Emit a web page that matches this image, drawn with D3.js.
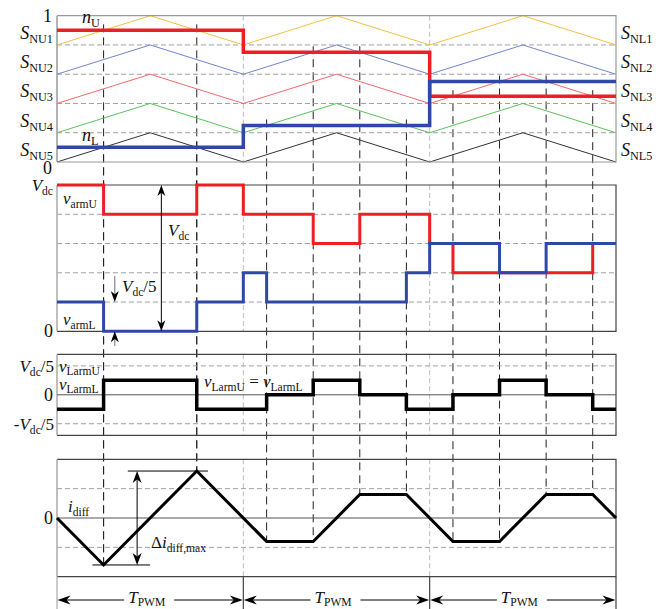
<!DOCTYPE html>
<html><head><meta charset="utf-8">
<script src="https://cdn.jsdelivr.net/npm/d3@7"></script>
<style>body{margin:0;background:#fff}svg{display:block}</style>
</head><body><svg id="c" width="666" height="609"></svg>
<script>
// ---- data (time in units of T_PWM) ----
const periods = [0, 1, 2, 3];
const carrierBands = [[0.8, 1.0], [0.6, 0.8], [0.4, 0.6], [0.2, 0.4], [0.0, 0.2]];
const carrierUpperLabels = ["NU1", "NU2", "NU3", "NU4", "NU5"];
const carrierLowerLabels = ["NL1", "NL2", "NL3", "NL4", "NL5"];
const nU = [0.9, 0.75, 0.45];
const nL = [0.1, 0.25, 0.55];
const switchU = [0.25, 0.75, 1.375, 1.625, 2.125, 2.875];
const switchL = [0.25, 0.75, 1.125, 1.875, 2.375, 2.625];
const nUatSwitchU = [0.9, 0.9, 0.75, 0.75, 0.45, 0.45];
const nLatSwitchL = [0.1, 0.1, 0.25, 0.25, 0.55, 0.55];
// arm voltages, units of Vdc/5
const vArmUt = [0, 0.25, 0.75, 1.0, 1.375, 1.625, 2.0, 2.125, 2.875, 3.0];
const vArmUv = [5, 4, 5, 4, 3, 4, 3, 2, 3];
const vArmLt = [0, 0.25, 0.75, 1.0, 1.125, 1.875, 2.0, 2.375, 2.625, 3.0];
const vArmLv = [1, 0, 1, 2, 1, 2, 3, 2, 3];
// inductor voltage, units of Vdc/5
const vLt = [0, 0.25, 0.75, 1.125, 1.375, 1.625, 1.875, 2.125, 2.375, 2.625, 2.875, 3.0];
const vLv = [-0.5, 0.5, -0.5, 0, 0.5, 0, -0.5, 0, 0.5, 0, -0.5];
// circulating current
const iDt = [0, 0.25, 0.75, 1.125, 1.375, 1.625, 1.875, 2.125, 2.375, 2.625, 2.875, 3.0];
const iDv = [0, -1.6, 1.6, -0.8, -0.8, 0.8, 0.8, -0.8, -0.8, 0.8, 0.8, 0];

// ---- styles ----
const carrierColors = ["#f5c040", "#6f86d0", "#f26a6a", "#5cc25c", "#333333"];
const RED = "#ee1d26", BLUE = "#2f48a8";
const FONT = "'Liberation Serif','Times New Roman',serif";

const svg = d3.select("#c");
const x = d3.scaleLinear().domain([0, 3]).range([57, 616]);
const y1 = d3.scaleLinear().domain([0, 1]).range([162, 15.7]);
const y2 = d3.scaleLinear().domain([0, 5]).range([331.3, 185]);
const y3 = d3.scaleLinear().domain([-1.4, 1.4]).range([435.3, 354.3]);
const y4 = d3.scaleLinear().domain([-2, 2]).range([576.7, 459.3]);
const iAt = d3.scaleLinear().domain(iDt).range(iDv);

function stepPts(t, v) {
  const pts = [];
  v.forEach((val, i) => { pts.push([t[i], val]); pts.push([t[i + 1], val]); });
  return pts;
}
function rich(g, px, py, parts, anchor, size, sub) {
  size = size || 17; sub = sub || 4;
  const t = g.append("text").attr("x", px).attr("y", py)
    .attr("font-family", FONT).attr("font-size", size).attr("fill", "#111")
    .attr("text-anchor", anchor || "start");
  let shift = 0;
  parts.forEach(([s, k]) => {
    const sp = t.append("tspan").text(s);
    if (k === "s") { sp.attr("font-size", size * 0.68).attr("dy", sub - shift); shift = sub; }
    else { if (shift) { sp.attr("dy", -shift); shift = 0; } if (k === "i") sp.attr("font-style", "italic"); }
  });
  return t;
}
function hgrid(g, ys, vals, x0, x1) {
  g.selectAll(null).data(vals).join("line")
    .attr("x1", x0).attr("x2", x1).attr("y1", d => ys(d)).attr("y2", d => ys(d))
    .attr("stroke", "#a0a0a0").attr("stroke-width", 1).attr("stroke-dasharray", "5,3");
}
function vbound(g, ys) {
  g.selectAll(null).data([1, 2]).join("line")
    .attr("x1", d => x(d)).attr("x2", d => x(d))
    .attr("y1", ys.range()[1]).attr("y2", ys.range()[0])
    .attr("stroke", "#bdbdbd").attr("stroke-width", 1).attr("stroke-dasharray", "5,3");
}
function frame(g, ys, topCol, leftCol) {
  const [b, t] = ys.range();
  g.append("path").attr("d", `M${x(0)},${t}H${x(3)}V${b}H${x(0)}`)
    .attr("fill", "none").attr("stroke", topCol).attr("stroke-width", 1.2);
  g.append("line").attr("x1", x(0)).attr("x2", x(0)).attr("y1", t).attr("y2", b)
    .attr("stroke", leftCol).attr("stroke-width", 1.5);
}
function arrowHead(g, px, py, dir, len, w) {
  len = len || 10; w = w || 4;
  let d;
  if (dir === "up") d = `M${px},${py}L${px - w},${py + len}L${px},${py + len * 0.7}L${px + w},${py + len}Z`;
  if (dir === "down") d = `M${px},${py}L${px - w},${py - len}L${px},${py - len * 0.7}L${px + w},${py - len}Z`;
  if (dir === "left") d = `M${px},${py}L${px + len},${py - w}L${px + len * 0.7},${py}L${px + len},${py + w}Z`;
  if (dir === "right") d = `M${px},${py}L${px - len},${py - w}L${px - len * 0.7},${py}L${px - len},${py + w}Z`;
  g.append("path").attr("d", d).attr("fill", "#000");
}

// ---- black dashed switching lines (behind everything) ----
const gSw = svg.append("g");
const swData = switchU.map((t, i) => ({ t, n: nUatSwitchU[i] }))
  .concat(switchL.map((t, i) => ({ t, n: nLatSwitchL[i] })));
gSw.selectAll("line").data(swData).join("line")
  .attr("x1", d => x(d.t)).attr("x2", d => x(d.t))
  .attr("y1", d => y1(d.n) - 6).attr("y2", d => y4(iAt(d.t)))
  .attr("stroke", "#222").attr("stroke-width", 1).attr("stroke-dasharray", "8,5");

// ---- panel 1: carriers ----
const g1 = svg.append("g");
hgrid(g1, y1, carrierBands.slice(0, 4).map(b => b[0]), x(0), x(3));
vbound(g1, y1);
const line1 = d3.line().x(d => x(d[0])).y(d => y1(d[1]));
carrierBands.forEach((b, k) => {
  const pts = [];
  periods.forEach(p => { pts.push([p, b[0]]); if (p < 3) pts.push([p + 0.5, b[1]]); });
  g1.append("path").attr("d", line1(pts)).attr("fill", "none")
    .attr("stroke", carrierColors[k]).attr("stroke-width", 1);
});
frame(g1, y1, "#9a9a9a", "#9a9a9a");
g1.append("path").attr("d", line1(stepPts(periods, nU))).attr("fill", "none")
  .attr("stroke", RED).attr("stroke-width", 3.5);
g1.append("path").attr("d", line1(stepPts(periods, nL))).attr("fill", "none")
  .attr("stroke", BLUE).attr("stroke-width", 3.5);
rich(g1, 52, 22, [["1", "n"]], "end", 18);
rich(g1, 52, 174, [["0", "n"]], "end", 18);
carrierBands.forEach((b, k) => {
  const cy = (y1(b[0]) + y1(b[1])) / 2 + 8.5;
  rich(g1, 53, cy, [["S", "i"], [carrierUpperLabels[k], "s"]], "end", 18);
  rich(g1, 621, cy, [["S", "i"], [carrierLowerLabels[k], "s"]], "start", 18);
});
rich(g1, 82, 23, [["n", "i"], ["U", "s"]], "start", 18);
rich(g1, 82, 141, [["n", "i"], ["L", "s"]], "start", 18);

// ---- panel 2: arm voltages ----
const g2 = svg.append("g");
hgrid(g2, y2, [1, 2, 3, 4], x(0), x(3));
vbound(g2, y2);
frame(g2, y2, "#444", "#aaa");
const line2 = d3.line().x(d => x(d[0])).y(d => y2(d[1]));
g2.append("path").attr("d", line2(stepPts(vArmUt, vArmUv))).attr("fill", "none")
  .attr("stroke", RED).attr("stroke-width", 3);
g2.append("path").attr("d", line2(stepPts(vArmLt, vArmLv))).attr("fill", "none")
  .attr("stroke", BLUE).attr("stroke-width", 3);
rich(g2, 53, y2(5) + 6, [["V", "i"], ["dc", "s"]], "end");
rich(g2, 53, y2(0) + 6, [["0", "n"]], "end", 18);
rich(g2, 63, 204, [["v", "i"], ["armU", "s"]]);
rich(g2, 63, 325, [["v", "i"], ["armL", "s"]]);
// Vdc double arrow
const ax = x(0.56);
g2.append("line").attr("x1", ax).attr("x2", ax).attr("y1", y2(5) + 4).attr("y2", y2(0) - 4)
  .attr("stroke", "#000").attr("stroke-width", 1);
arrowHead(g2, ax, y2(5), "up", 11, 4);
arrowHead(g2, ax, y2(0), "down", 11, 4);
rich(g2, 168, 236, [["V", "i"], ["dc", "s"]]);
// Vdc/5 arrows
const bx = x(0.31);
g2.append("line").attr("x1", bx).attr("x2", bx).attr("y1", 276).attr("y2", y2(1) - 4)
  .attr("stroke", "#888").attr("stroke-width", 1.2);
arrowHead(g2, bx, y2(1), "down", 11, 4);
g2.append("line").attr("x1", bx).attr("x2", bx).attr("y1", 346).attr("y2", y2(0) + 4)
  .attr("stroke", "#888").attr("stroke-width", 1.2);
arrowHead(g2, bx, y2(0), "up", 11, 4);
rich(g2, 122, 292, [["V", "i"], ["dc", "s"], ["/5", "n"]]);

// ---- panel 3: inductor voltage ----
const g3 = svg.append("g");
hgrid(g3, y3, [-1, 1], x(0), x(3));
vbound(g3, y3);
frame(g3, y3, "#444", "#aaa");
g3.append("line").attr("x1", x(0)).attr("x2", x(3)).attr("y1", y3(0)).attr("y2", y3(0))
  .attr("stroke", "#555").attr("stroke-width", 1);
const line3 = d3.line().x(d => x(d[0])).y(d => y3(d[1]));
g3.append("path").attr("d", line3(stepPts(vLt, vLv))).attr("fill", "none")
  .attr("stroke", "#000").attr("stroke-width", 3.5);
rich(g3, 54, y3(1) + 6, [["V", "i"], ["dc", "s"], ["/5", "n"]], "end");
rich(g3, 53, y3(0) + 6, [["0", "n"]], "end", 18);
rich(g3, 54, y3(-1) + 6, [["-", "n"], ["V", "i"], ["dc", "s"], ["/5", "n"]], "end");
rich(g3, 59, 372, [["v", "i"], ["LarmU", "s"]], "start", 17, 3);
rich(g3, 59, 390, [["v", "i"], ["LarmL", "s"]], "start", 17, 3);
rich(g3, 204, 387, [["v", "i"], ["LarmU", "s"], [" = ", "n"], ["v", "i"], ["LarmL", "s"]]);

// ---- panel 4: circulating current ----
const g4 = svg.append("g");
hgrid(g4, y4, [-1, 1], x(0), x(3));
vbound(g4, y4);
frame(g4, y4, "#444", "#aaa");
g4.append("line").attr("x1", x(0)).attr("x2", x(3)).attr("y1", y4(0)).attr("y2", y4(0))
  .attr("stroke", "#555").attr("stroke-width", 1);
const line4 = d3.line().x(d => x(d[0])).y(d => y4(d[1]));
g4.append("path").attr("d", line4(iDt.map((t, i) => [t, iDv[i]]))).attr("fill", "none")
  .attr("stroke", "#000").attr("stroke-width", 3).attr("stroke-linejoin", "miter");
rich(g4, 53, y4(0) + 6, [["0", "n"]], "end", 18);
rich(g4, 68, 512, [["i", "i"], ["diff", "s"]]);
const cx4 = x(0.43);
g4.append("line").attr("x1", x(0.38)).attr("x2", x(0.81)).attr("y1", y4(1.6)).attr("y2", y4(1.6))
  .attr("stroke", "#000").attr("stroke-width", 1);
g4.append("line").attr("x1", x(0.19)).attr("x2", x(0.5)).attr("y1", y4(-1.6)).attr("y2", y4(-1.6))
  .attr("stroke", "#000").attr("stroke-width", 1);
g4.append("line").attr("x1", cx4).attr("x2", cx4).attr("y1", y4(1.6) + 4).attr("y2", y4(-1.6) - 4)
  .attr("stroke", "#000").attr("stroke-width", 1);
arrowHead(g4, cx4, y4(1.6), "up", 12, 4.5);
arrowHead(g4, cx4, y4(-1.6), "down", 12, 4.5);
rich(g4, 151, 548, [["Δ", "n"], ["i", "i"], ["diff,max", "s"]]);

// ---- period arrows ----
const g5 = svg.append("g");
const ay = 600;
g5.selectAll("line.b").data(periods).join("line")
  .attr("x1", d => x(d)).attr("x2", d => x(d)).attr("y1", y4(-2)).attr("y2", 609)
  .attr("stroke", d => (d === 0 ? "#aaa" : "#444")).attr("stroke-width", 1.2);
periods.slice(0, 3).forEach(p => {
  const a = x(p), b = x(p + 1), m = (a + b) / 2;
  g5.append("line").attr("x1", a + 4).attr("x2", m - 26).attr("y1", ay).attr("y2", ay)
    .attr("stroke", "#000").attr("stroke-width", 1);
  g5.append("line").attr("x1", m + 24).attr("x2", b - 4).attr("y1", ay).attr("y2", ay)
    .attr("stroke", "#000").attr("stroke-width", 1);
  arrowHead(g5, a + 0.5, ay, "left", 13, 4.5);
  arrowHead(g5, b - 0.5, ay, "right", 13, 4.5);
  rich(g5, m - 22, 603, [["T", "i"], ["PWM", "s"]], "start", 17, 3);
});
</script></body></html>
